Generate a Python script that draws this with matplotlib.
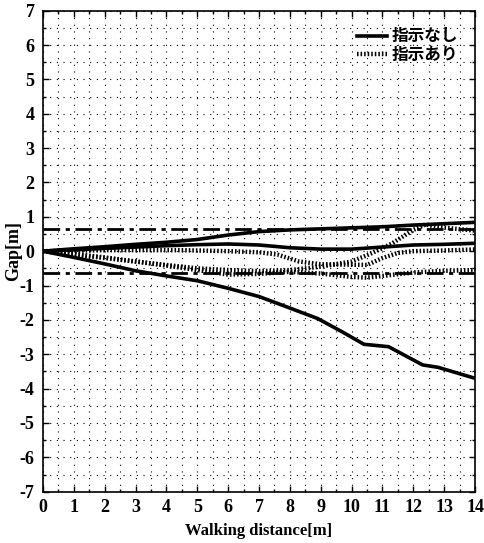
import matplotlib
matplotlib.use("Agg")
import matplotlib.pyplot as plt
import numpy as np

# --- data ---
# solid lines: without instruction (指示なし)
s1_x = [0, 1, 2, 3, 4, 5, 6, 7, 8, 9, 10, 11, 12, 13, 14]
s1_y = [0, 0.07, 0.13, 0.2, 0.26, 0.34, 0.47, 0.57, 0.62, 0.65, 0.68, 0.71, 0.76, 0.8, 0.84]

s2_x = [0, 1, 2, 3, 4, 5, 6, 7, 8, 9, 10, 11, 12, 13, 14]
s2_y = [0, 0.04, 0.08, 0.12, 0.16, 0.19, 0.21, 0.18, 0.1, 0.06, 0.06, 0.12, 0.18, 0.2, 0.23]

s3_x = [0, 1, 2, 3, 4, 5, 6, 7, 7.6, 8.9, 9.7, 10.4, 11.2, 12.3, 12.8, 14]
s3_y = [0, -0.18, -0.37, -0.57, -0.72, -0.86, -1.08, -1.32, -1.52, -1.96, -2.35, -2.71, -2.78, -3.31, -3.38, -3.7]

# dotted lines: with instruction (指示あり)
d1_x = [0, 1, 2, 3, 4, 5, 6, 7, 8, 8.5, 9, 10, 10.6, 11.3, 12, 12.4, 12.8, 14]
d1_y = [0, -0.1, -0.2, -0.3, -0.4, -0.5, -0.55, -0.58, -0.55, -0.5, -0.45, -0.3, -0.08, 0.22, 0.62, 0.78, 0.7, 0.6]

d2_x = [0, 2, 4.5, 6, 7, 7.6, 8.3, 9, 10.5, 11, 11.5, 12, 13, 14]
d2_y = [0, 0.03, 0.03, 0.0, -0.03, -0.1, -0.3, -0.38, -0.4, -0.2, -0.05, 0.0, 0.02, 0.05]

d3_x = [0, 1, 2, 3, 4, 5, 6, 7, 8, 9, 10, 10.5, 11, 12, 13, 14]
d3_y = [0, -0.08, -0.18, -0.3, -0.42, -0.55, -0.68, -0.66, -0.6, -0.65, -0.75, -0.77, -0.72, -0.62, -0.57, -0.55]

band_upper = 0.64
band_lower = -0.64

x_ticks = list(range(0, 15))
y_ticks = list(range(-7, 8))

solid_lines = [(s1_x, s1_y), (s2_x, s2_y), (s3_x, s3_y)]
dotted_lines = [(d1_x, d1_y), (d2_x, d2_y), (d3_x, d3_y)]

serif = "Liberation Serif"
jp_font = ["Noto Sans CJK JP", "DejaVu Sans"]
plt.rcParams["axes.unicode_minus"] = False

fig = plt.figure(figsize=(4.84, 5.43), dpi=100)
ax = fig.add_axes([0.0888, 0.0945, 0.8927, 0.8858])

# dotted grid every 0.5
ax.set_xticks(np.arange(0, 14.01, 0.5), minor=True)
ax.set_yticks(np.arange(-7, 7.01, 0.5), minor=True)
ax.grid(True, which="both", color="black", linestyle=(0, (1, 5)), linewidth=0.8)
ax.set_axisbelow(True)

# tolerance band
ax.axhline(band_upper, color="black", linewidth=2, linestyle=(0, (6, 2, 1.5, 2)))
ax.axhline(band_lower, color="black", linewidth=2, linestyle=(0, (6, 2, 1.5, 2)))

for i, (x, y) in enumerate(solid_lines):
    ax.plot(x, y, color="black", linewidth=2.6, solid_joinstyle="round",
            label="指示なし" if i == 0 else None)
for i, (x, y) in enumerate(dotted_lines):
    ax.plot(x, y, color="black", linewidth=3.2, linestyle=(0, (0.35, 0.45)),
            label="指示あり" if i == 0 else None)

ax.set_xlim(0, 14)
ax.set_ylim(-7, 7)
ax.set_xticks(x_ticks)
ax.set_yticks(y_ticks)
ax.tick_params(which="both", direction="in", top=True, right=True, length=4, width=1)
ax.tick_params(which="minor", length=2)
for lab in ax.get_xticklabels() + ax.get_yticklabels():
    lab.set_fontfamily(serif)
    lab.set_fontweight("bold")
    lab.set_fontsize(13)
ax.tick_params(axis="x", pad=5)
ax.tick_params(axis="y", pad=6)
for sp in ax.spines.values():
    sp.set_linewidth(1.2)

ax.set_xlabel("Walking distance[m]", fontfamily=serif, fontweight="bold", fontsize=12, labelpad=5)
ax.set_ylabel("Gap[m]", fontfamily=serif, fontweight="bold", fontsize=13, labelpad=-2)

leg = ax.legend(loc="upper right", frameon=False, handlelength=1.8, handletextpad=0.3,
                labelspacing=0.05, borderaxespad=0.6,
                prop={"family": jp_font, "weight": "bold", "size": 12})

fig.savefig("out.png", dpi=100)
